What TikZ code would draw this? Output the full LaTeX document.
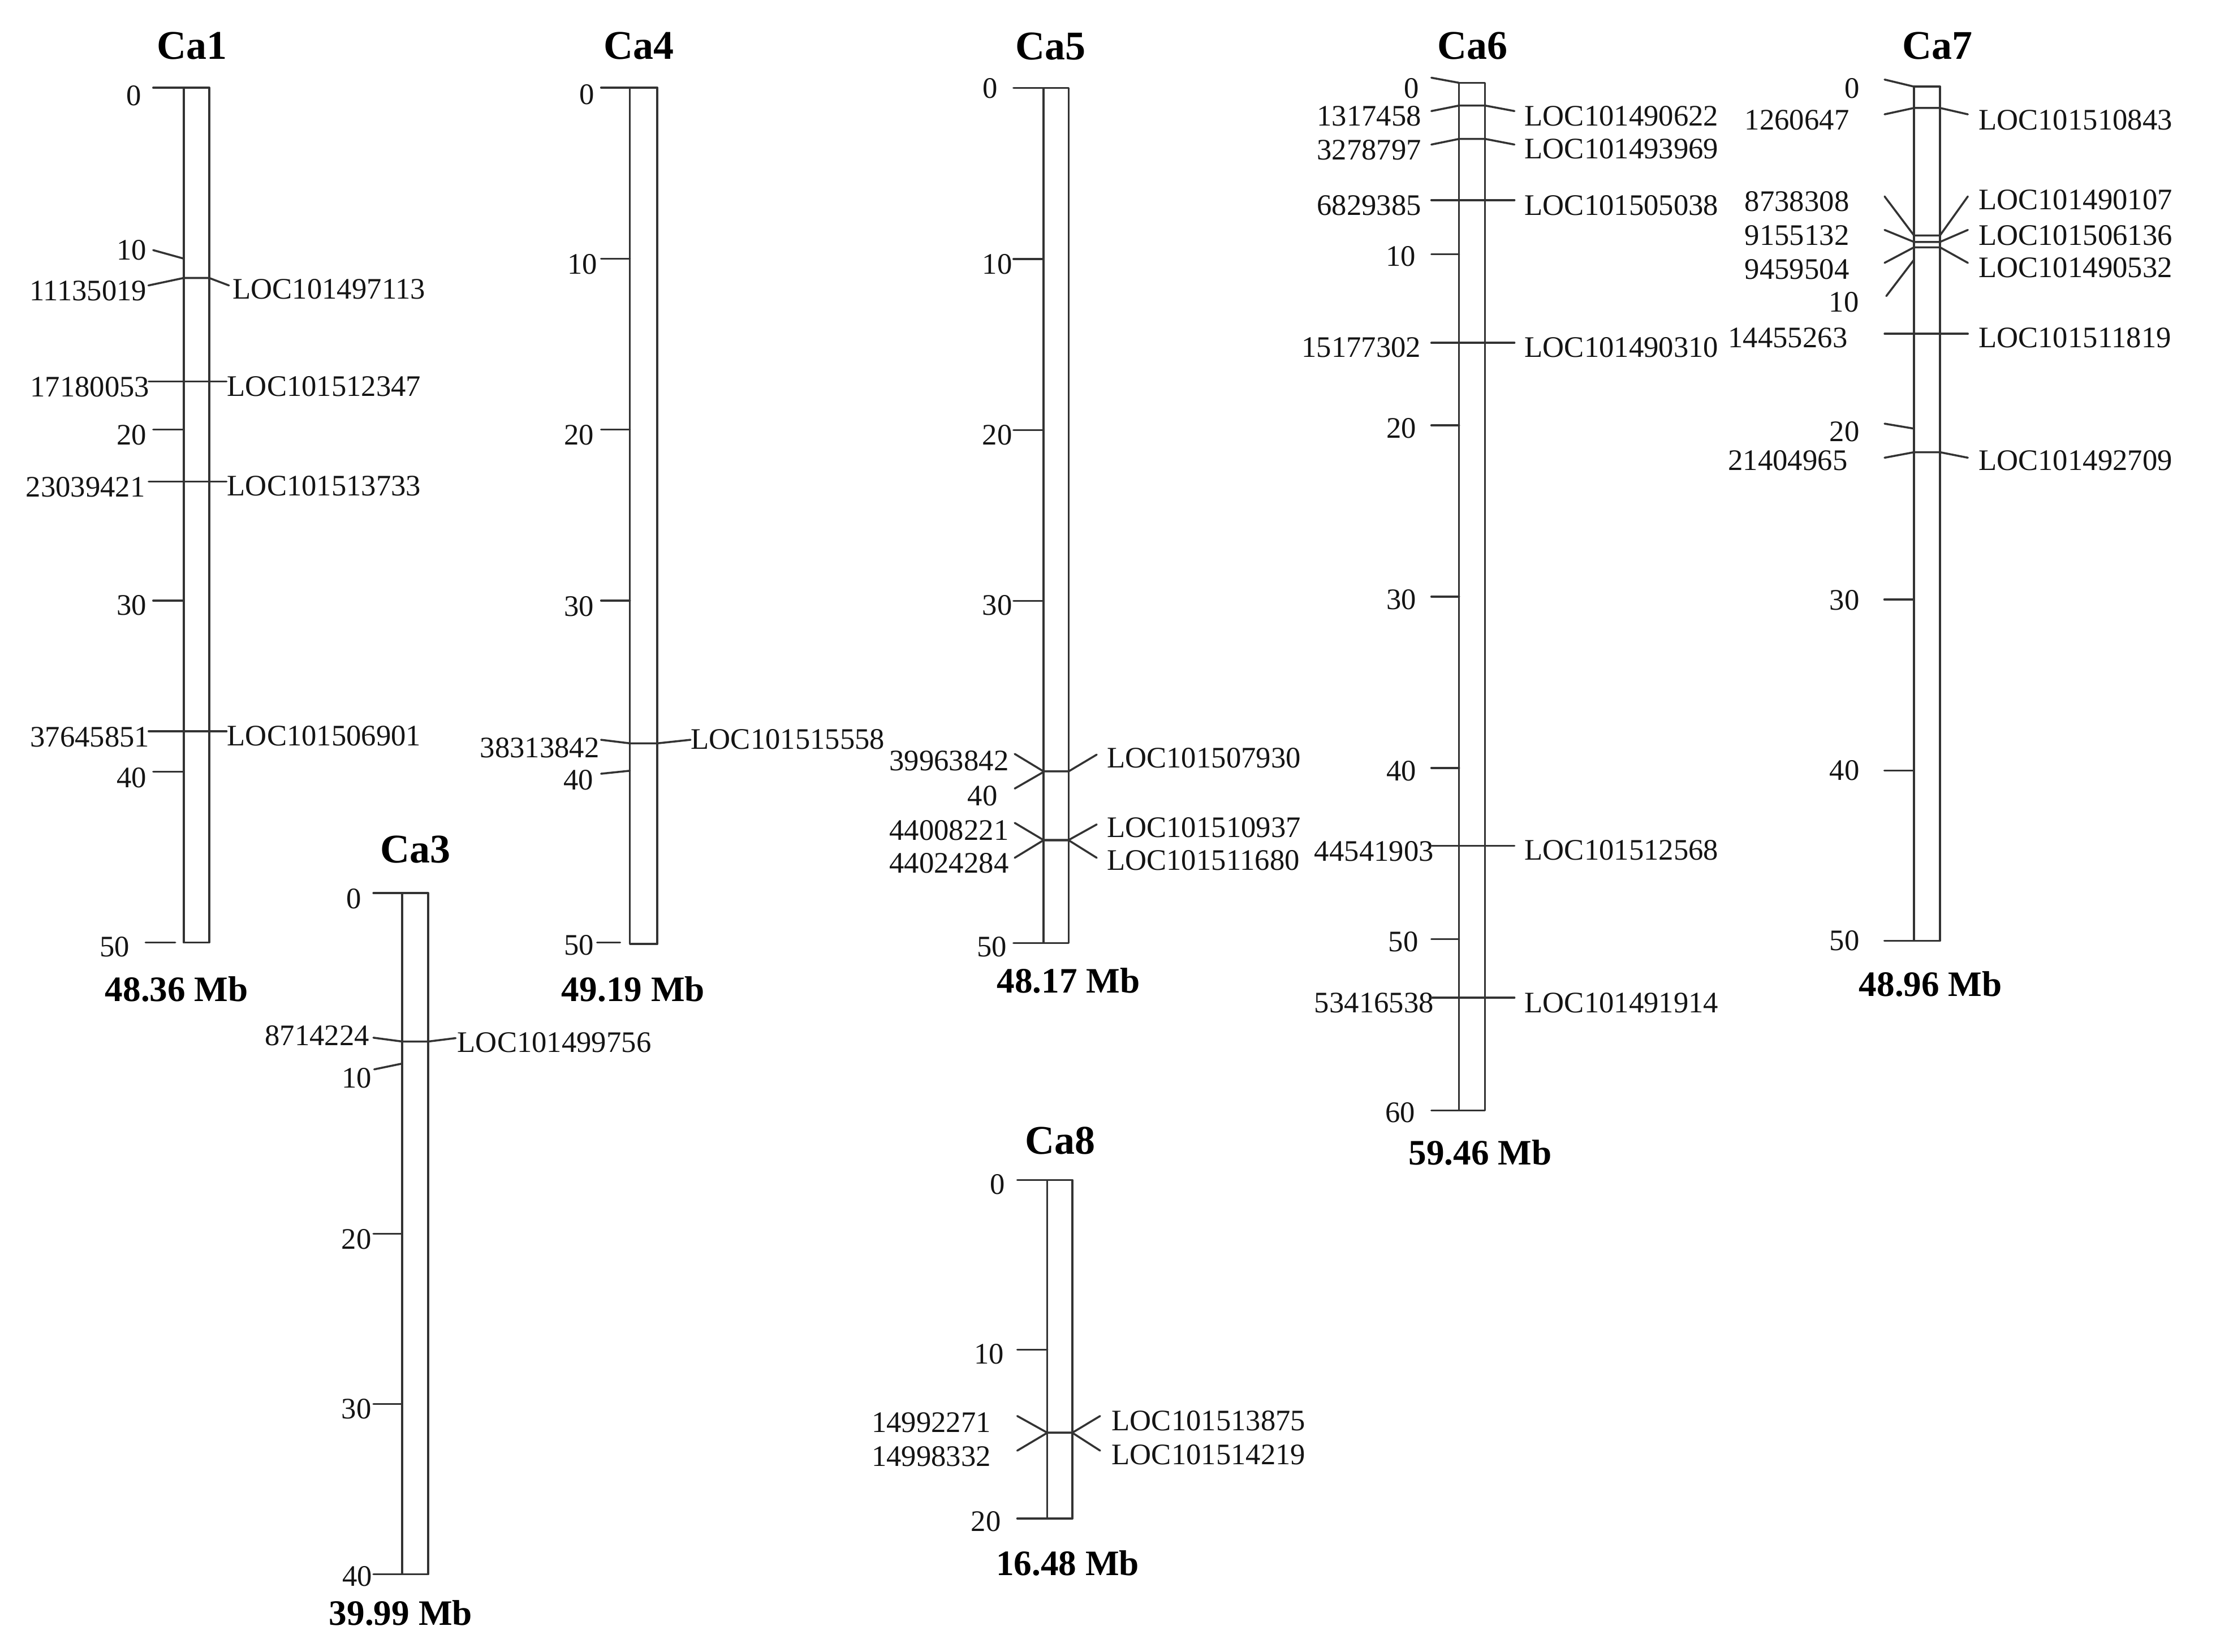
\documentclass[tikz,border=0pt]{standalone}
\usepackage{fontspec}
\setmainfont{Liberation Serif}
\usetikzlibrary{calc}
\tikzset{
  ln/.style={line width=1pt, draw=black!80, line join=round, line cap=round},
  lab/.style={inner sep=0pt, font=\fontsize{15}{18}\selectfont, text=black!92},
  ttl/.style={inner sep=0pt, font=\bfseries\fontsize{20.5}{24}\selectfont},
  sz/.style={inner sep=0pt, font=\bfseries\fontsize{18}{22}\selectfont},
}
% tick: id, text, text-east x, text y, x1, y1, x2, y2
\newcommand\TK[8]{%
  \node[lab,anchor=east] (#1) at (#3,#4) {#2};
  \coordinate (#1a) at (#5,#6);
  \coordinate (#1b) at (#7,#8);
  \draw[ln] (#1a) -- (#1b);}
% left marker label: id, text, text-east x, text y, end x, end y, marker y
\newcommand\ML[7]{%
  \node[lab,anchor=east] (#1) at (#3,#4) {#2};
  \coordinate (#1e) at (#5,#6);
  \coordinate (#1p) at (\myL,#7);
  \coordinate (#1q) at (\myR,#7);
  \draw[ln] (#1e) -- (#1p) -- (#1q);}
% right marker label: id, text, text-west x, text y, end x, end y, marker y
\newcommand\MR[7]{%
  \node[lab,anchor=west] (#1) at (#3,#4) {#2};
  \coordinate (#1e) at (#5,#6);
  \coordinate (#1q) at (\myR,#7);
  \draw[ln] (#1q) -- (#1e);}
% chromosome body: id, left, right, top, bottom
\newcommand\CH[5]{%
  \coordinate (#1tl) at (#2,#4);
  \coordinate (#1br) at (#3,#5);
  \draw[ln] (#1tl) rectangle (#1br);}
\begin{document}
\begin{tikzpicture}[x=0.025cm,y=-0.025cm]
\fill[white] (0,0) rectangle (1568,1169);
\useasboundingbox (0,0) rectangle (1568,1169);

% ---------------- Ca1
\def\myL{130}\def\myR{148}
\CH{c1}{130}{148}{62}{667}
\node[ttl] (t1) at (136,32.5) {Ca1};
\node[sz] (s1) at (125,700) {48.36 Mb};
\TK{c1k0}{0}{100.3}{67.8}{108.4}{62}{130}{62}
\TK{c1k1}{10}{104}{177}{108.4}{177}{130}{183}
\TK{c1k2}{20}{104}{308}{108.4}{304}{130}{304}
\TK{c1k3}{30}{104}{428.5}{108.4}{425}{130}{425}
\TK{c1k4}{40}{104}{550.5}{108.4}{546}{130}{546}
\TK{c1k5}{50}{92}{670}{103}{667}{124}{667}
\ML{c1a}{11135019}{104}{205.6}{105}{202}{196.7}
\MR{c1A}{LOC101497113}{164.4}{204.5}{162}{202}{196.7}
\ML{c1b}{17180053}{106}{274}{105.2}{270}{270}
\MR{c1B}{LOC101512347}{160.5}{273.4}{160.3}{270}{270}
\ML{c1c}{23039421}{103}{344.6}{105.2}{340.8}{340.8}
\MR{c1C}{LOC101513733}{160.5}{344}{160.3}{340.8}{340.8}
\ML{c1d}{37645851}{106}{521.5}{105.2}{517.5}{517.5}
\MR{c1D}{LOC101506901}{160.5}{520.8}{160.3}{517.5}{517.5}

% ---------------- Ca3
\def\myL{284.6}\def\myR{303}
\CH{c3}{284.6}{303}{632}{1114}
\node[ttl] (t3) at (293.8,601) {Ca3};
\node[sz] (s3) at (283.5,1141.2) {39.99 Mb};
\TK{c3k0}{0}{255.8}{636}{264.2}{632}{284.6}{632}
\TK{c3k1}{10}{263.2}{762.8}{264.8}{756.7}{284.6}{752.6}
\TK{c3k2}{20}{263}{877}{264.2}{873}{284.6}{873}
\TK{c3k3}{30}{263}{997}{264.2}{993.5}{284.6}{993.5}
\TK{c3k4}{40}{263.5}{1115.5}{264.2}{1114}{284.6}{1114}
\ML{c3a}{8714224}{261.6}{732.9}{264.2}{734.3}{737}
\MR{c3A}{LOC101499756}{323.4}{737.6}{322.4}{734.6}{737}

% ---------------- Ca4
\def\myL{445.7}\def\myR{465.1}
\CH{c4}{445.7}{465.1}{62}{668}
\node[ttl] (t4) at (452,32.5) {Ca4};
\node[sz] (s4) at (448,700) {49.19 Mb};
\TK{c4k0}{0}{421}{67}{425.3}{62}{445.7}{62}
\TK{c4k1}{10}{423}{187}{425.3}{183}{445.7}{183}
\TK{c4k2}{20}{420.6}{308}{425.3}{304}{445.7}{304}
\TK{c4k3}{30}{420.6}{429}{425.3}{425}{445.7}{425}
\TK{c4k4}{40}{420.2}{552}{425.3}{547.5}{445.7}{545.4}
\TK{c4k5}{50}{420.4}{669}{422.5}{667}{438.8}{667}
\ML{c4a}{38313842}{424.3}{529}{425.3}{523.5}{526}
\MR{c4A}{LOC101515558}{488.6}{523}{488.6}{523.5}{526}

% ---------------- Ca5
\def\myL{738.3}\def\myR{756.2}
\CH{c5}{738.3}{756.2}{62.3}{667.3}
\node[ttl] (t5) at (743.5,33) {Ca5};
\node[sz] (s5) at (756,694) {48.17 Mb};
\TK{c5k0}{0}{706.3}{62.7}{717.1}{62.3}{738.3}{62.3}
\TK{c5k1}{10}{716.5}{187}{717.1}{183.3}{738.3}{183.3}
\TK{c5k2}{20}{716.5}{308}{717.1}{304.3}{738.3}{304.3}
\TK{c5k3}{30}{716.5}{428.5}{717.1}{425.3}{738.3}{425.3}
\TK{c5k4}{40}{706}{563}{718}{558}{738.3}{546.3}
\TK{c5k5}{50}{712.6}{670}{717.1}{667.3}{738.3}{667.3}
\ML{c5a}{39963842}{714}{538.3}{718}{533.5}{545.8}
\MR{c5A}{LOC101507930}{783}{536.3}{776}{534}{545.8}
\ML{c5b}{44008221}{714}{587.5}{718}{582.3}{594.4}
\MR{c5B}{LOC101510937}{783}{585.6}{776}{583.4}{594.4}
\ML{c5c}{44024284}{714}{611}{718}{607}{594.6}
\MR{c5C}{LOC101511680}{783}{609}{776}{607}{594.6}

% ---------------- Ca6
\def\myL{1032.4}\def\myR{1050.8}
\CH{c6}{1032.4}{1050.8}{58.6}{785.8}
\node[ttl] (t6) at (1041.8,32.5) {Ca6};
\node[sz] (s6) at (1047.3,815.8) {59.46 Mb};
\TK{c6k0}{0}{1004.3}{62.5}{1012.8}{55}{1032.4}{58.6}
\TK{c6k1}{10}{1002}{181.3}{1012.8}{179.8}{1032.4}{179.8}
\TK{c6k2}{20}{1002.5}{303}{1012.8}{301}{1032.4}{301}
\TK{c6k3}{30}{1002.5}{424.5}{1012.8}{422.2}{1032.4}{422.2}
\TK{c6k4}{40}{1002.5}{545.5}{1012.8}{543.4}{1032.4}{543.4}
\TK{c6k5}{50}{1003.8}{666.6}{1012.8}{664.6}{1032.4}{664.6}
\TK{c6k6}{60}{1001.6}{787.2}{1012.8}{785.8}{1032.4}{785.8}
\ML{c6a}{1317458}{1006}{82}{1012.8}{78.6}{74.7}
\MR{c6A}{LOC101490622}{1078.5}{82}{1071.6}{78.6}{74.7}
\ML{c6b}{3278797}{1006}{106}{1012.8}{102.3}{98.3}
\MR{c6B}{LOC101493969}{1078.5}{105.4}{1071.6}{102.3}{98.3}
\ML{c6c}{6829385}{1006}{145.5}{1012.8}{141.6}{141.6}
\MR{c6C}{LOC101505038}{1078.5}{145.5}{1071.6}{141.6}{141.6}
\ML{c6d}{15177302}{1005.7}{246}{1012.8}{242.6}{242.6}
\MR{c6D}{LOC101490310}{1078.5}{246}{1071.6}{242.6}{242.6}
\ML{c6e}{44541903}{1014.7}{602.3}{1013}{598.5}{598.5}
\MR{c6E}{LOC101512568}{1078.5}{601.5}{1071.6}{598.5}{598.5}
\ML{c6f}{53416538}{1014.7}{709.5}{1013}{706}{706}
\MR{c6F}{LOC101491914}{1078.5}{709.5}{1071.6}{706}{706}

% ---------------- Ca7
\def\myL{1354.3}\def\myR{1372.7}
\CH{c7}{1354.3}{1372.7}{61.3}{665.7}
\node[ttl] (t7) at (1370.8,32.5) {Ca7};
\node[sz] (s7) at (1366,696.4) {48.96 Mb};
\TK{c7k0}{0}{1316}{62.5}{1333.5}{56.3}{1354.3}{61.3}
\TK{c7k1}{10}{1315.5}{213.7}{1334.7}{209.5}{1354.3}{183.8}
\TK{c7k2}{20}{1316}{305.6}{1333.5}{299.8}{1354.3}{303.3}
\TK{c7k3}{30}{1316}{424.6}{1333.3}{424.3}{1354.3}{424.3}
\TK{c7k4}{40}{1316}{545.3}{1333.3}{545.3}{1354.3}{545.3}
\TK{c7k5}{50}{1316}{665.7}{1333.3}{665.7}{1354.3}{665.7}
\ML{c7a}{1260647}{1308.7}{85}{1333.5}{80.9}{76.4}
\MR{c7A}{LOC101510843}{1399.7}{85}{1392.4}{80.9}{76.4}
\ML{c7b}{8738308}{1308.7}{142.5}{1333.5}{139}{166.6}
\MR{c7B}{LOC101490107}{1399.7}{141.2}{1392.4}{139}{166.6}
\ML{c7c}{9155132}{1308.7}{166.6}{1333.5}{162.7}{171.2}
\MR{c7C}{LOC101506136}{1399.7}{166.5}{1392.4}{162.7}{171.2}
\ML{c7d}{9459504}{1308.7}{190.7}{1333.5}{186}{175}
\MR{c7D}{LOC101490532}{1399.7}{189.5}{1392.4}{186}{175}
\ML{c7e}{14455263}{1307.5}{239}{1333.5}{236.2}{236.2}
\MR{c7E}{LOC101511819}{1399.7}{239}{1392.4}{236.2}{236.2}
\ML{c7f}{21404965}{1307.5}{326}{1333.5}{323.9}{320}
\MR{c7F}{LOC101492709}{1399.7}{326}{1392.4}{323.9}{320}

% ---------------- Ca8
\def\myL{741}\def\myR{758.8}
\CH{c8}{741}{758.8}{835}{1074.6}
\node[ttl] (t8) at (750,807) {Ca8};
\node[sz] (s8) at (755.4,1106) {16.48 Mb};
\TK{c8k0}{0}{711.3}{838}{719.8}{835}{741}{835}
\TK{c8k1}{10}{710.6}{958}{719.8}{955}{741}{955}
\TK{c8k2}{20}{708.4}{1076.6}{719.8}{1074.6}{741}{1074.6}
\ML{c8a}{14992271}{701.4}{1006.5}{719.8}{1002}{1013.8}
\MR{c8A}{LOC101513875}{786.4}{1005.3}{778.4}{1002}{1013.8}
\ML{c8b}{14998332}{701.4}{1030.6}{719.8}{1026.5}{1013.9}
\MR{c8B}{LOC101514219}{786.4}{1029.3}{778.4}{1026.5}{1013.9}
\end{tikzpicture}
\end{document}
